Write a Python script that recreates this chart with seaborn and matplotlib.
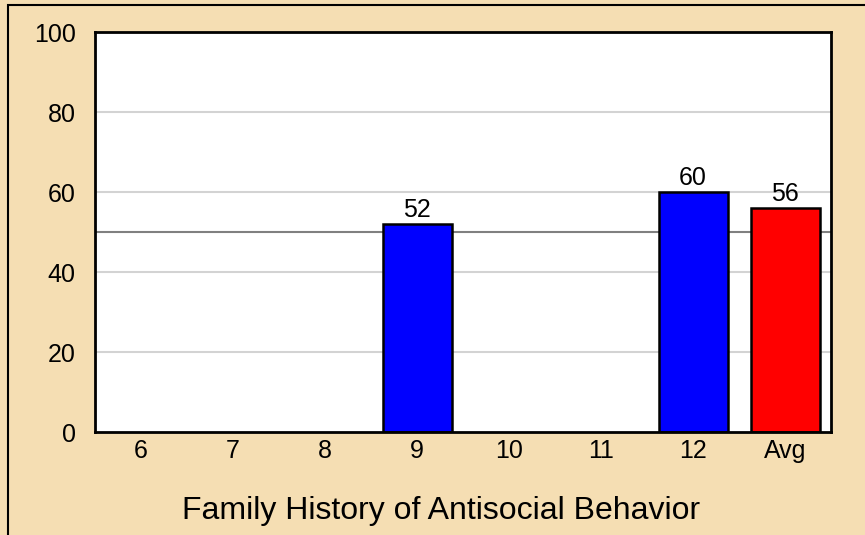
import matplotlib
matplotlib.use("Agg")
import matplotlib.pyplot as plt
import seaborn as sns
import pandas as pd
from matplotlib.patches import Rectangle

# chart data (None = no bar shown)
categories = ["6", "7", "8", "9", "10", "11", "12", "Avg"]
values = [None, None, None, 52, None, None, 60, 56]
bar_colors = ["#0000FF"] * 7 + ["#FF0000"]
y_ticks = [0, 20, 40, 60, 80, 100]
x_title = "Family History of Antisocial Behavior"

df = pd.DataFrame({"cat": categories, "val": values}).astype({"val": float})

sns.set_theme(style="white")
plt.rcParams["font.family"] = ["Liberation Sans", "DejaVu Sans"]

bg = "#F5DEB3"
fig = plt.figure(figsize=(8.65, 5.35), dpi=100, facecolor=bg)
ax = fig.add_axes([95 / 865, 1 - 432 / 535, 736 / 865, 400 / 535])
ax.set_facecolor("white")

# outer frame (top and left visible, cropped on right/bottom)
fig.patches.append(Rectangle((8 / 865, -0.1), 1.2, 1 - 5 / 535 + 0.1,
                             transform=fig.transFigure, fill=False,
                             edgecolor="black", linewidth=1.5, zorder=0))

for y in [20, 40, 60, 80]:
    ax.axhline(y, color="#D3D3D3", linewidth=1.5, zorder=0)
ax.axhline(50, color="#808080", linewidth=1.5, zorder=0)

sns.barplot(data=df, x="cat", y="val", hue="cat", palette=bar_colors,
            saturation=1, legend=False, width=0.75, edgecolor="black",
            linewidth=1.8, ax=ax, zorder=2)

for i, v in enumerate(values):
    if v:
        ax.text(i, v + 0.6, str(v), ha="center", va="bottom", fontsize=18,
                color="black")

ax.set_ylim(0, 100)
ax.set_xlim(-0.5, len(categories) - 0.5)
ax.set_yticks(y_ticks)
ax.tick_params(axis="both", length=0, labelsize=18, colors="black")
ax.tick_params(axis="y", pad=14)
ax.tick_params(axis="x", pad=5)
ax.set_ylabel("")
ax.set_xlabel("")
fig.text(441 / 865, 1 - 511 / 535, x_title, fontsize=23, ha="center",
         va="center", color="black")
for s in ax.spines.values():
    s.set_visible(True)
    s.set_color("black")
    s.set_linewidth(2)

fig.savefig("out.png", dpi=100, facecolor=bg)
